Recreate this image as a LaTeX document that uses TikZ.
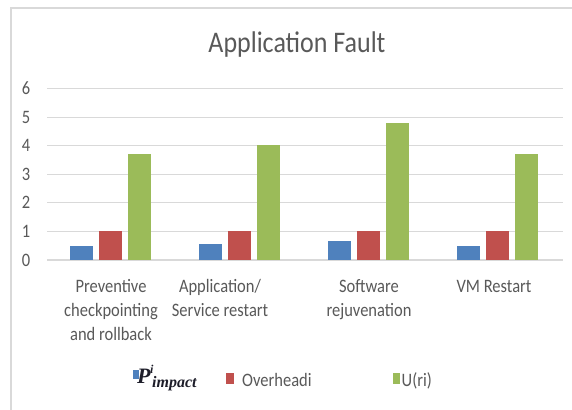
\documentclass[tikz,border=0pt]{standalone}
\usepackage{fontspec}
\setmainfont{Carlito}
\newfontfamily\legserif{Liberation Serif}
\definecolor{txtgrey}{HTML}{595959}
\definecolor{gridgrey}{HTML}{D9D9D9}
\definecolor{barblue}{HTML}{4F81BD}
\definecolor{barred}{HTML}{C0504D}
\definecolor{bargreen}{HTML}{9BBB59}
\definecolor{legdark}{HTML}{1E1E2A}
\newcommand{\vstretch}[1]{\scalebox{1}[1.15]{#1}}
\begin{document}
\begin{tikzpicture}[x=1pt,y=-1pt,
  framel/.style={draw=gridgrey,line width=1.4pt},
  gridl/.style={draw=gridgrey,line width=1.1pt},
  ylbl/.style={text=txtgrey,font=\fontsize{16.5}{20}\selectfont,anchor=base,inner sep=0pt},
  catlbl/.style={text=txtgrey,font=\fontsize{16.5}{21}\selectfont,anchor=base,inner sep=0pt},
  leglbl/.style={text=txtgrey,font=\fontsize{16.5}{20}\selectfont,anchor=base west,inner sep=0pt},
  bbar/.style={fill=barblue},
  rbar/.style={fill=barred},
  gbar/.style={fill=bargreen}]
\useasboundingbox (0,0) rectangle (572,409);
\fill[white] (0,0) rectangle (572,409);
% chart frame
\draw[framel] (11,412) -- (11,8) -- (575,8);
% title
\node[text=txtgrey,font=\fontsize{26}{30}\selectfont,anchor=base,inner sep=0pt] (title) at (297,53) {\vstretch{Application Fault}};
% gridlines and y labels
\foreach \v in {0,...,6}{
  \draw[gridl] (47,{260-28.58*\v}) -- (563,{260-28.58*\v});
  \node[ylbl] (y\v) at (26,{266-28.58*\v}) {\vstretch{\v}};
}
% bars
\foreach \c/\b/\g [count=\i] in {110.5/0.5/3.7, 239.5/0.55/4.02, 368.5/0.66/4.78, 497.5/0.5/3.7}{
  \fill[bbar] ({\c-28.75-11.5},260) rectangle ({\c-28.75+11.5},{260-28.58*\b});
  \fill[rbar] ({\c-11.5},260) rectangle ({\c+11.5},{260-28.58});
  \fill[gbar] ({\c+28.75-11.5},260) rectangle ({\c+28.75+11.5},{260-28.58*\g});
}
% category labels
\node[catlbl] (c1) at (111,292) {\vstretch{\begin{tabular}[t]{@{}c@{}}Preventive\\checkpointing\\and rollback\end{tabular}}};
\node[catlbl] (c2) at (220,292) {\vstretch{\begin{tabular}[t]{@{}c@{}}Application/\\Service restart\end{tabular}}};
\node[catlbl] (c3) at (369,292) {\vstretch{\begin{tabular}[t]{@{}c@{}}Software\\rejuvenation\end{tabular}}};
\node[catlbl] (c4) at (494,292) {\vstretch{VM Restart}};
% legend
\fill[barblue] (133,370) rectangle (138.5,378.5);
\node[text=legdark,font=\legserif\bfseries\itshape\fontsize{22}{22}\selectfont,anchor=base west,inner sep=0pt] (legP) at (137,383) {P};
\node[text=legdark,font=\legserif\bfseries\itshape\fontsize{12}{12}\selectfont,anchor=base west,inner sep=0pt] (legPi) at (150,373) {i};
\node[text=legdark,font=\legserif\bfseries\itshape\fontsize{16}{16}\selectfont,anchor=base west,inner sep=0pt] (legPs) at (152,387) {impact};
\fill[barred] (226,373) rectangle (234,384);
\node[leglbl] (legO) at (242,386) {\vstretch{Overheadi}};
\fill[bargreen] (393,373) rectangle (400,384);
\node[leglbl] (legU) at (401.5,386) {\vstretch{U(ri)}};
\end{tikzpicture}
\end{document}
